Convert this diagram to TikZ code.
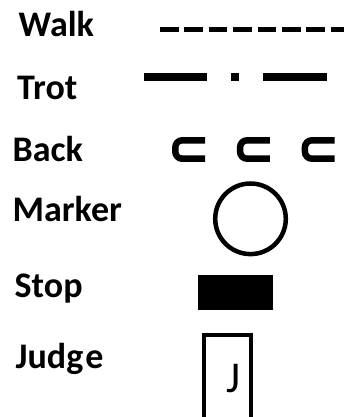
\documentclass[tikz,border=0pt]{standalone}
\usepackage{fontspec}
\setmainfont{Carlito}
\begin{document}
\begin{tikzpicture}[x=1pt,y=-1pt,
  lbl/.style={anchor=base west,inner sep=0pt,font=\fontsize{36}{42}\selectfont\bfseries},
  backsym/.style={line width=6.5pt,rounded corners=7pt,line cap=butt}]
\useasboundingbox (0,0) rectangle (344,417);
\clip (0,0) rectangle (344,417);
% labels
\node[lbl] (walk) at (18.5,36.7) {Walk};
\node[lbl] (trot) at (17,99.3) {Trot};
\node[lbl] (back) at (12.5,161.7) {Back};
\node[lbl] (marker) at (12.5,221.7) {Marker};
\node[lbl] (stop) at (14.5,297.3) {Stop};
\node[lbl] (judge) at (15.5,368.3) {Judg\kern2pt e};
% walk
\draw[line width=5pt,dash pattern=on 18.5pt off 5.9pt] (160,29.2) -- (345,29.2);
% trot
\fill (144,73.3) rectangle (206.7,80.7);
\fill (231.3,73.3) rectangle (239,80.7);
\fill (263.3,73.3) rectangle (326.7,80.7);
% back
\foreach \dx in {0,64.8,129.6}{
  \draw[backsym] (205+\dx,140.3) -- (175.3+\dx,140.3) -- (175.3+\dx,158.7) -- (205+\dx,158.7);
}
% marker
\draw[line width=4.5pt] (250.5,218.8) circle[radius=35.3];
% stop
\fill (198.3,275) rectangle (273.3,310);
% judge
\draw[line width=4pt] (204.3,425) -- (204.3,335.3) -- (251.3,335.3) -- (251.3,425);
\node[inner sep=0pt,font=\fontsize{44}{50}\selectfont] (jletter) at (233.3,378.3) {J};
\end{tikzpicture}
\end{document}
